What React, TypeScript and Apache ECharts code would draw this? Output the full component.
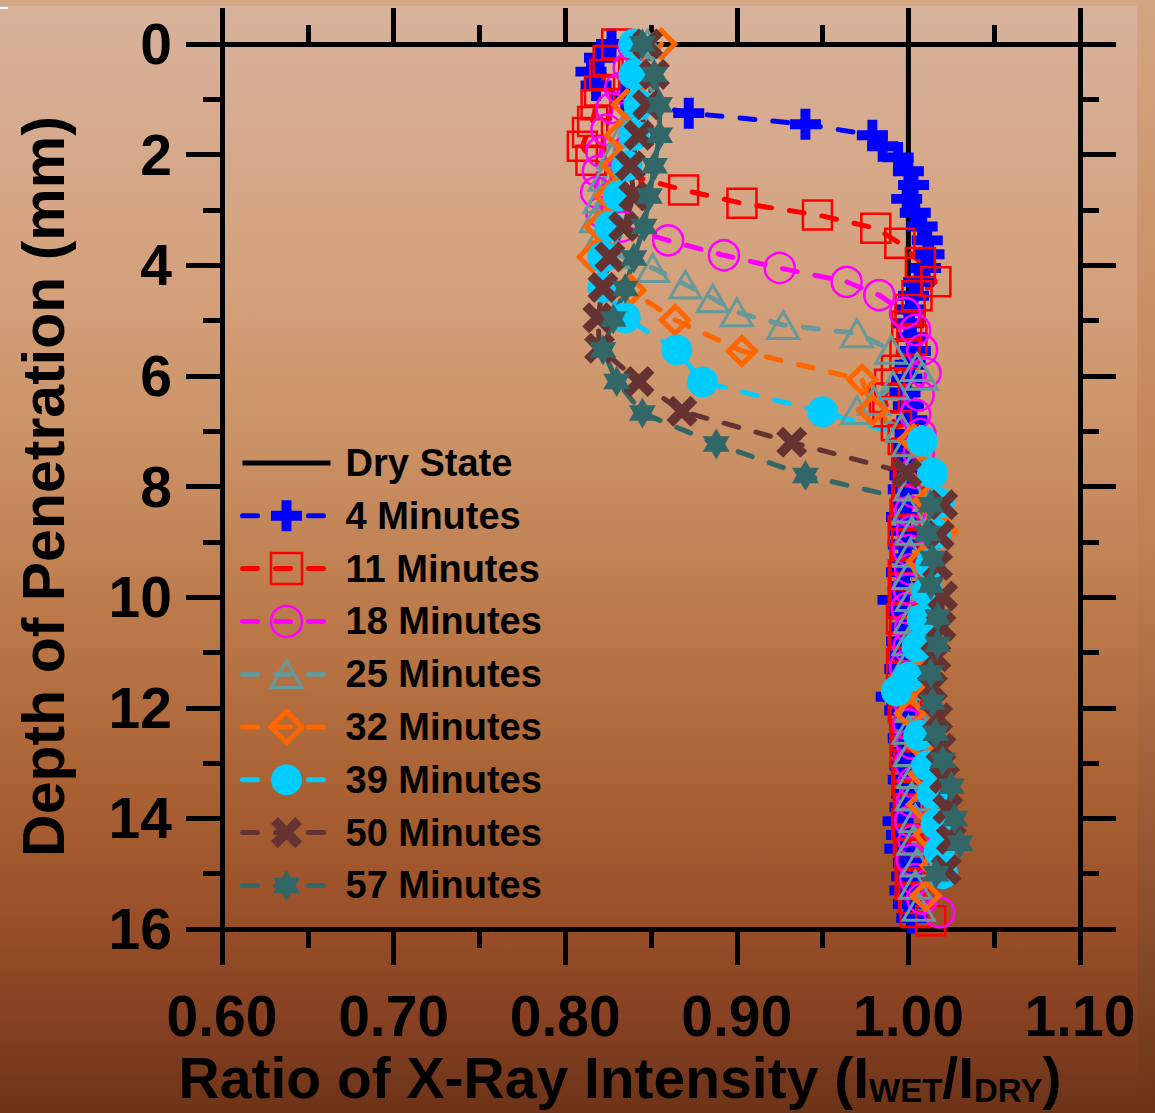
import React, { useEffect, useRef } from "react";
import * as echarts from "echarts";

const FONT = "Liberation Sans";

// axis ranges
const X_MIN = 0.6;
const X_MAX = 1.1;
const X_STEP = 0.1;
const Y_MIN = 0;
const Y_MAX = 16;
const Y_STEP = 2;

// [depth (mm), ratio]
const DRY: [number, number][] = [[0, 1.0], [16, 1.0]];

const MIN_4: [number, number][] = [
  [0, 0.827], [0.25, 0.82], [0.5, 0.815], [0.75, 0.818], [1.0, 0.835], [1.25, 0.872],
  [1.45, 0.94], [1.65, 0.979], [1.85, 0.985], [2.05, 0.994], [2.3, 1.0], [2.55, 1.003],
  [2.8, 0.999], [3.05, 1.004], [3.3, 1.008], [3.55, 1.011], [3.8, 1.012], [4.05, 1.01],
  [4.3, 1.006], [4.55, 1.003], [4.8, 1.001], [5.05, 1.0], [5.3, 1.002], [5.55, 1.004],
  [5.8, 1.001], [6.05, 0.999], [6.3, 0.998], [6.55, 1.0], [6.8, 1.002], [7.05, 1.001],
  [7.3, 0.999], [7.55, 1.0], [7.8, 0.998], [8.05, 0.997], [8.3, 0.999], [8.55, 0.996],
  [8.8, 0.998], [9.05, 0.997], [9.3, 0.999], [9.55, 0.996], [9.8, 0.998], [10.05, 0.991],
  [10.3, 0.997], [10.55, 0.998], [10.8, 0.996], [11.05, 0.997], [11.3, 0.995], [11.55, 0.996],
  [11.8, 0.99], [12.05, 0.995], [12.3, 0.998], [12.55, 0.997], [12.8, 0.999], [13.05, 0.998],
  [13.3, 0.997], [13.55, 0.999], [13.8, 0.998], [14.05, 0.994], [14.3, 0.996], [14.55, 0.995],
  [14.8, 1.0], [15.05, 0.999], [15.3, 0.998], [15.55, 1.0], [15.8, 1.002], [16.05, 1.004],
];

const MIN_11: [number, number][] = [
  [0, 0.83], [0.3, 0.825], [0.55, 0.823], [0.85, 0.82], [1.1, 0.818], [1.4, 0.816],
  [1.6, 0.813], [1.85, 0.81], [2.1, 0.815], [2.35, 0.835], [2.64, 0.869], [2.88, 0.903],
  [3.09, 0.947], [3.33, 0.981], [3.6, 0.995], [3.95, 1.007], [4.3, 1.016], [4.55, 1.005],
  [4.8, 1.001], [5.1, 0.999], [5.35, 1.002], [5.6, 0.998], [5.9, 0.993], [6.15, 0.989],
  [6.4, 0.986], [6.65, 0.988], [6.9, 0.993], [7.15, 0.997], [7.4, 0.999], [7.7, 1.001],
  [7.95, 1.0], [8.25, 0.999], [8.5, 0.998], [8.8, 0.997], [9.05, 0.999], [9.3, 0.998],
  [9.6, 0.997], [9.85, 0.998], [10.1, 0.997], [10.4, 0.996], [10.65, 0.998], [10.9, 0.997],
  [11.2, 0.996], [11.45, 0.998], [11.7, 0.999], [12.0, 0.997], [12.25, 0.998], [12.5, 0.999],
  [12.8, 0.998], [13.05, 1.0], [13.3, 0.999], [13.6, 1.0], [13.85, 1.001], [14.1, 0.999],
  [14.4, 1.0], [14.65, 1.001], [14.9, 1.002], [15.2, 1.001], [15.45, 1.003], [15.7, 1.004],
  [15.85, 1.013],
];

const MIN_18: [number, number][] = [
  [0.05, 0.84], [0.43, 0.837], [0.8, 0.832], [1.16, 0.827], [1.55, 0.824], [1.95, 0.821],
  [2.3, 0.819], [2.68, 0.818], [3.04, 0.821], [3.3, 0.833], [3.55, 0.86], [3.82, 0.8925],
  [4.05, 0.925], [4.3, 0.964], [4.54, 0.983], [4.86, 0.998], [5.17, 1.004], [5.53, 1.008],
  [5.95, 1.01], [6.35, 1.006], [6.7, 1.004], [7.05, 1.007], [7.4, 1.006], [7.75, 1.004],
  [8.1, 1.003], [8.45, 1.001], [8.8, 1.002], [9.15, 1.0], [9.5, 1.001], [9.85, 1.0],
  [10.2, 0.999], [10.55, 1.001], [10.9, 1.0], [11.25, 0.998], [11.6, 0.999], [11.95, 1.001],
  [12.3, 1.0], [12.65, 1.002], [13.0, 1.001], [13.35, 1.003], [13.7, 1.002], [14.05, 1.001],
  [14.4, 1.003], [14.75, 1.002], [15.1, 1.004], [15.45, 1.008], [15.7, 1.018],
];

const MIN_25: [number, number][] = [
  [0, 0.848], [0.4, 0.848], [0.8, 0.845], [1.2, 0.84], [1.6, 0.834], [2.0, 0.828],
  [2.4, 0.823], [2.8, 0.82], [3.15, 0.818], [3.5, 0.82], [3.8, 0.83], [4.05, 0.851],
  [4.35, 0.87], [4.6, 0.886], [4.85, 0.9], [5.08, 0.927], [5.23, 0.97], [5.53, 0.99],
  [5.84, 1.005], [6.0, 1.008], [6.17, 0.991], [6.45, 0.98], [6.62, 0.97], [6.94, 0.996],
  [7.2, 1.0], [7.6, 1.003], [8.0, 1.001], [8.4, 1.0], [8.8, 1.002], [9.2, 1.001],
  [9.6, 1.0], [10.0, 1.002], [10.4, 1.001], [10.8, 1.0], [11.2, 0.999], [11.6, 1.001],
  [12.0, 1.002], [12.4, 1.0], [12.8, 1.001], [13.2, 1.003], [13.6, 1.002], [14.0, 1.004],
  [14.4, 1.003], [14.8, 1.005], [15.2, 1.004], [15.6, 1.006],
];

const MIN_32: [number, number][] = [
  [0, 0.856], [0.55, 0.846], [1.1, 0.836], [1.65, 0.832], [2.2, 0.83], [2.75, 0.826],
  [3.3, 0.82], [3.85, 0.816], [4.45, 0.838], [4.99, 0.864], [5.55, 0.903], [6.07, 0.973],
  [6.62, 0.979], [7.15, 1.003], [7.7, 1.008], [8.25, 1.012], [8.8, 1.02], [9.35, 1.008],
  [9.9, 1.01], [10.45, 1.009], [11.0, 1.007], [11.55, 1.003], [12.1, 1.001], [12.65, 1.007],
  [13.2, 1.009], [13.75, 1.008], [14.3, 1.012], [14.85, 1.016], [15.4, 1.01],
];

const MIN_39: [number, number][] = [
  [0, 0.84], [0.55, 0.84], [1.1, 0.843], [1.65, 0.84], [2.2, 0.836], [2.75, 0.831],
  [3.3, 0.826], [3.85, 0.822], [4.4, 0.822], [4.95, 0.835], [5.53, 0.865], [6.11, 0.88],
  [6.65, 0.95], [7.18, 1.008], [7.76, 1.014], [8.3, 1.018], [8.85, 1.016], [9.4, 1.013],
  [9.9, 1.011], [10.4, 1.008], [10.9, 1.005], [11.45, 1.0], [11.7, 0.993], [12.5, 1.006],
  [13.05, 1.011], [13.55, 1.014], [14.1, 1.016], [14.6, 1.018], [15.0, 1.02],
];

const MIN_50: [number, number][] = [
  [0, 0.848], [0.55, 0.852], [1.1, 0.848], [1.65, 0.843], [2.2, 0.838], [2.75, 0.84],
  [3.3, 0.834], [3.85, 0.826], [4.4, 0.822], [4.95, 0.819], [5.5, 0.82], [6.1, 0.843],
  [6.64, 0.868], [7.2, 0.932], [7.76, 0.999], [8.33, 1.02], [8.88, 1.018], [9.43, 1.017],
  [9.98, 1.02], [10.53, 1.019], [11.08, 1.016], [11.63, 1.014], [12.18, 1.017], [12.73, 1.019],
  [13.28, 1.021], [13.83, 1.023], [14.38, 1.025], [14.93, 1.022],
];

const MIN_57: [number, number][] = [
  [0, 0.845], [0.55, 0.852], [1.1, 0.855], [1.65, 0.855], [2.2, 0.852], [2.75, 0.849],
  [3.3, 0.846], [3.87, 0.84], [4.42, 0.835], [4.97, 0.828], [5.53, 0.822], [6.1, 0.83],
  [6.67, 0.845], [7.23, 0.888], [7.8, 0.94], [8.33, 1.013], [8.85, 1.011], [9.3, 1.014],
  [9.78, 1.013], [10.36, 1.017], [10.85, 1.017], [11.37, 1.013], [11.9, 1.014], [12.46, 1.016],
  [12.95, 1.02], [13.42, 1.025], [14.0, 1.027], [14.45, 1.03], [15.0, 1.016],
];

// symbols (square bounding boxes)
const PLUS = "path://M34,0H66V34H100V66H66V100H34V66H0V34H34Z";
const CROSS =
  "path://M22,0L50,28L78,0L100,22L72,50L100,78L78,100L50,72L22,100L0,78L28,50L0,22Z";
const HEXAGRAM =
  "path://M50,0L64.43,25L93.3,25L78.87,50L93.3,75L64.43,75L50,100L35.57,75L6.7,75L21.13,50L6.7,25L35.57,25Z" +
  "M0,50L0.001,50ZM100,50L99.999,50Z";
const TRIANGLE = "path://M50,6.7L100,93.3L0,93.3Z M50,0L50.001,0Z M50,100L50.001,100Z";
const DRY_ICON = "path://M0,0H88V5H0Z";

type Spec = {
  name: string;
  data: [number, number][];
  color: string;
  symbol: string;
  size: number;
  hollow: boolean;
  border: number;
};

const SPECS: Spec[] = [
  { name: "4 Minutes", data: MIN_4, color: "#0000FF", symbol: PLUS, size: 31, hollow: false, border: 0 },
  { name: "11 Minutes", data: MIN_11, color: "#FF0000", symbol: "rect", size: 29, hollow: true, border: 2.5 },
  { name: "18 Minutes", data: MIN_18, color: "#FF00FF", symbol: "circle", size: 30, hollow: true, border: 2.5 },
  { name: "25 Minutes", data: MIN_25, color: "#669999", symbol: TRIANGLE, size: 31, hollow: true, border: 3 },
  { name: "32 Minutes", data: MIN_32, color: "#FF6600", symbol: "diamond", size: 27, hollow: true, border: 5 },
  { name: "39 Minutes", data: MIN_39, color: "#00CCFF", symbol: "circle", size: 31, hollow: false, border: 0 },
  { name: "50 Minutes", data: MIN_50, color: "#663333", symbol: CROSS, size: 31, hollow: false, border: 0 },
  { name: "57 Minutes", data: MIN_57, color: "#336666", symbol: HEXAGRAM, size: 31, hollow: false, border: 0 },
];

const axisLineStyle = { color: "#000", width: 5 };
const labelStyle = { color: "#000", fontSize: 57, fontWeight: "bold" as const, fontFamily: FONT };

export default function App() {
  const ref = useRef<HTMLDivElement>(null);

  useEffect(() => {
    if (!ref.current) return;
    const chart = echarts.init(ref.current, undefined, { renderer: "svg" });

    const toXY = (pairs: [number, number][]) => pairs.map((p) => [p[1], p[0]]);

    const series: any[] = [
      {
        name: "Dry State",
        type: "line",
        data: toXY(DRY),
        symbol: "none",
        color: "#000",
        lineStyle: { color: "#000", width: 5, type: "solid" },
        z: 2,
      },
      ...SPECS.map((s) => ({
        name: s.name,
        type: "line",
        data: toXY(s.data),
        symbol: s.symbol,
        symbolSize: s.size,
        color: s.color,
        itemStyle: {
          color: s.hollow ? "rgba(0,0,0,0)" : s.color,
          borderColor: s.color,
          borderWidth: s.border,
        },
        lineStyle: { color: s.color, width: 5, type: [15, 18], cap: "round" },
        z: 3,
      })),
    ];

    const legendData: any[] = [
      { name: "Dry State", icon: DRY_ICON, itemStyle: { borderWidth: 0 } },
      ...SPECS.map((s) => ({ name: s.name, itemStyle: { borderWidth: s.border } })),
    ];

    const option: any = {
      animation: false,
      backgroundColor: {
        type: "linear",
        x: 0,
        y: 0,
        x2: 0,
        y2: 1,
        colorStops: [
          { offset: 0, color: "#D4A682" },
          { offset: 0.5, color: "#C07F4E" },
          { offset: 1, color: "#6C3317" },
        ],
      },
      graphic: [
        {
          type: "rect",
          z: -10,
          silent: true,
          shape: { x: 0, y: 6, width: 1137, height: 1107 },
          style: {
            fill: new echarts.graphic.LinearGradient(0, 0, 0, 1, [
              { offset: 0, color: "#D8B29C" },
              { offset: 0.25, color: "#D4A17C" },
              { offset: 0.4, color: "#CA9165" },
              { offset: 0.55, color: "#BC7A4B" },
              { offset: 0.7, color: "#AA6234" },
              { offset: 0.82, color: "#9A5029" },
              { offset: 0.92, color: "#854022" },
              { offset: 1, color: "#6C3318" },
            ]),
          },
        },
        {
          type: "line",
          z: 100,
          silent: true,
          shape: { x1: 0, y1: 8, x2: 8, y2: 8 },
          style: { stroke: "#FFFFFF", lineWidth: 2 },
        },
      ],
      grid: { left: 222, right: 75, top: 44, bottom: 184, outerBoundsMode: "none", containLabel: false },
      legend: {
        orient: "vertical",
        left: 240,
        top: 444,
        padding: 0,
        itemWidth: 88,
        itemHeight: 38.75,
        itemGap: 14.8,
        selectedMode: false,
        lineStyle: { width: 5 },
        textStyle: {
          color: "#000",
          fontSize: 38,
          lineHeight: 38,
          fontWeight: "bold",
          fontFamily: FONT,
          padding: [0, 0, 0, 10],
        },
        data: legendData,
      },
      xAxis: [
        {
          type: "value",
          position: "bottom",
          min: X_MIN,
          max: X_MAX,
          interval: X_STEP,
          axisLine: { show: true, onZero: false, lineStyle: axisLineStyle },
          axisTick: { show: true, inside: false, length: 36, lineStyle: axisLineStyle },
          minorTick: { show: true, splitNumber: 2, length: 19, lineStyle: axisLineStyle },
          splitLine: { show: false },
          axisLabel: {
            ...labelStyle,
            margin: 58,
            formatter: (v: number) => v.toFixed(2),
          },
          name: "{m|Ratio of X-Ray Intensity (I}{s|WET}{m|/I}{s|DRY}{m|)}",
          nameLocation: "middle",
          nameGap: 120,
          nameTextStyle: {
            padding: [0, 62, 0, 0],
            rich: {
              m: { ...labelStyle, lineHeight: 57, verticalAlign: "top" },
              s: {
                color: "#000",
                fontSize: 33,
                fontWeight: "bold",
                fontFamily: FONT,
                lineHeight: 33,
                verticalAlign: "top",
                padding: [25, 0, 0, 0],
              },
            },
          },
        },
        {
          type: "value",
          position: "top",
          min: X_MIN,
          max: X_MAX,
          interval: X_STEP,
          axisLine: { show: true, onZero: false, lineStyle: axisLineStyle },
          axisTick: { show: true, inside: false, length: 36, lineStyle: axisLineStyle },
          minorTick: { show: true, splitNumber: 2, length: 19, lineStyle: axisLineStyle },
          splitLine: { show: false },
          axisLabel: { show: false },
        },
      ],
      yAxis: [
        {
          type: "value",
          position: "left",
          inverse: true,
          min: Y_MIN,
          max: Y_MAX,
          interval: Y_STEP,
          axisLine: { show: true, onZero: false, lineStyle: axisLineStyle },
          axisTick: { show: true, inside: false, length: 36, lineStyle: axisLineStyle },
          minorTick: { show: true, splitNumber: 2, length: 19, lineStyle: axisLineStyle },
          splitLine: { show: false },
          axisLabel: { ...labelStyle, margin: 50 },
          name: "Depth of Penetration (mm)",
          nameLocation: "middle",
          nameGap: 149,
          nameTextStyle: { ...labelStyle, fontSize: 59 },
        },
        {
          type: "value",
          position: "right",
          inverse: true,
          min: Y_MIN,
          max: Y_MAX,
          interval: Y_STEP,
          axisLine: { show: true, onZero: false, lineStyle: axisLineStyle },
          axisTick: { show: true, inside: false, length: 36, lineStyle: axisLineStyle },
          minorTick: { show: true, splitNumber: 2, length: 19, lineStyle: axisLineStyle },
          splitLine: { show: false },
          axisLabel: { show: false },
        },
      ],
      series,
    };

    chart.setOption(option);
    return () => chart.dispose();
  }, []);

  return (
    <div
      ref={ref}
      style={{ position: "absolute", left: 0, top: 0, width: 1155, height: 1113 }}
    />
  );
}
